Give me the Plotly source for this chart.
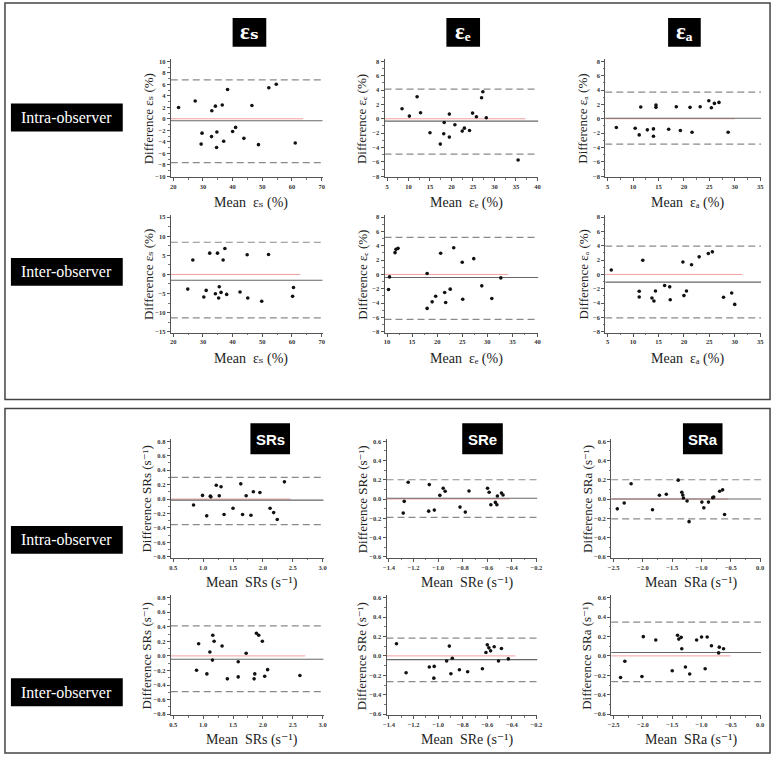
import plotly.graph_objects as go

W, H = 778, 758

# ---------------- data ----------------
# Top panel: strain (%), intra-observer
es_intra_mean = [21.8, 27.4, 29.7, 29.4, 33.0, 32.9, 34.2, 34.7, 34.6, 36.5, 37.0, 38.3, 40.0, 41.0, 43.8, 46.5, 48.7, 52.2, 54.7, 61.1]
es_intra_diff = [1.97, 3.1, -2.5, -4.4, 1.4, -3.1, 2.2, -2.3, -5.0, 2.4, -3.9, 5.1, -2.2, -1.5, -3.4, 2.3, -4.5, 5.4, 6.0, -4.2]
es_intra_stats = [-0.35, 6.76, -7.63, 63.8]  # bias, upper LoA, lower LoA, end of zero line

ee_intra_mean = [8.5, 10.2, 12.0, 12.8, 15.0, 17.4, 18.2, 18.3, 19.5, 19.5, 20.8, 22.5, 23.0, 24.2, 24.9, 25.8, 27.0, 27.3, 28.1, 35.5]
ee_intra_diff = [1.39, 0.37, 3.06, 0.83, -1.94, -3.52, -2.08, -0.51, -2.55, 0.65, -0.83, -1.71, -1.30, -1.62, 0.79, 0.28, 2.92, 3.75, 0.14, -5.74]
ee_intra_stats = [-0.32, 4.12, -4.91, 37.2]

ea_intra_mean = [6.7, 10.4, 11.2, 11.5, 12.8, 14.0, 14.0, 14.5, 14.5, 17.0, 18.5, 19.3, 21.2, 21.6, 23.2, 24.9, 25.4, 26.0, 26.9, 28.7]
ea_intra_diff = [-1.22, -1.31, -2.24, 1.64, -1.54, -1.41, -2.42, 1.91, 1.59, -1.45, 1.68, -1.64, 1.59, -1.87, 1.68, 2.51, 1.54, 2.14, 2.28, -1.87]
ea_intra_stats = [0.08, 3.71, -3.53, 30.0]

# Top panel: strain (%), inter-observer
es_inter_mean = [24.9, 26.6, 30.3, 31.1, 32.3, 34.2, 34.9, 35.3, 35.5, 36.1, 36.8, 37.4, 38.0, 42.5, 44.9, 45.1, 49.8, 52.1, 60.2, 60.5]
es_inter_diff = [-3.85, 3.76, -5.92, -4.19, 5.57, -5.06, 5.57, -6.18, -3.24, -4.71, 3.76, 6.78, -5.23, -4.62, 5.14, -6.18, -7.04, 5.23, -5.75, -3.41]
es_inter_stats = [-1.51, 8.43, -11.37, 62.8]

ee_inter_mean = [10.3, 10.5, 11.6, 11.8, 12.2, 18.0, 18.0, 19.0, 19.7, 20.7, 21.5, 21.7, 22.6, 23.3, 25.0, 25.1, 27.3, 28.9, 30.9, 32.7]
ee_inter_diff = [-2.11, -0.35, 3.04, 3.50, 3.64, 0.12, -4.75, -3.83, -3.04, 2.95, -2.53, -3.92, -2.06, 3.73, 1.69, -3.46, 2.20, -1.60, -3.36, -0.49]
ee_inter_stats = [-0.44, 5.17, -6.28, 34.2]

ea_inter_mean = [5.7, 11.2, 11.2, 11.9, 13.7, 14.1, 14.4, 16.2, 17.2, 17.3, 19.8, 20.0, 20.5, 21.5, 23.0, 24.8, 25.6, 27.8, 29.4, 30.0]
ea_inter_diff = [0.61, -2.35, -3.15, 1.98, -3.29, -3.72, -2.31, -1.55, -1.74, -3.53, 1.74, -2.96, -2.31, 1.36, 2.45, 2.92, 3.15, -3.20, -2.59, -4.19]
ea_inter_stats = [-1.08, 3.95, -6.07, 31.5]

# Bottom panel: strain rate (1/s), intra-observer
srs_intra_mean = [0.84, 0.99, 1.06, 1.12, 1.13, 1.22, 1.27, 1.30, 1.35, 1.50, 1.63, 1.66, 1.72, 1.80, 1.84, 1.95, 2.12, 2.18, 2.24, 2.36]
srs_intra_diff = [-0.082, 0.05, -0.233, 0.04, 0.03, 0.19, 0.046, 0.17, -0.215, -0.128, 0.21, -0.215, 0.046, -0.224, 0.10, 0.09, -0.128, -0.188, -0.284, 0.238]
srs_intra_stats = [-0.015, 0.30, -0.355, 2.46]

sre_intra_mean = [-1.284, -1.276, -1.244, -1.077, -1.072, -1.031, -0.986, -0.959, -0.943, -0.822, -0.779, -0.749, -0.598, -0.585, -0.571, -0.534, -0.522, -0.518, -0.485, -0.472]
sre_intra_diff = [-0.146, -0.024, 0.174, -0.126, 0.15, -0.115, 0.038, 0.112, 0.08, -0.084, -0.136, 0.084, 0.112, 0.07, -0.059, -0.035, -0.059, 0.031, 0.063, 0.042]
sre_intra_stats = [0.008, 0.20, -0.19, -0.42]

sra_intra_mean = [-2.438, -2.320, -2.202, -1.837, -1.719, -1.601, -1.399, -1.337, -1.320, -1.309, -1.247, -1.213, -0.994, -0.961, -0.882, -0.809, -0.792, -0.691, -0.640, -0.607]
sra_intra_diff = [-0.102, -0.042, 0.158, -0.112, 0.039, 0.049, 0.196, 0.07, 0.042, 0.011, -0.021, -0.235, -0.032, -0.091, -0.032, 0.014, 0.021, 0.081, 0.095, -0.161]
sra_intra_stats = [0.0, 0.20, -0.207, -0.55]

# Bottom panel: strain rate (1/s), inter-observer
srs_inter_mean = [0.89, 0.925, 1.063, 1.113, 1.156, 1.162, 1.184, 1.317, 1.405, 1.587, 1.587, 1.720, 1.853, 1.864, 1.892, 1.930, 1.991, 2.030, 2.079, 2.619]
srs_inter_diff = [-0.198, 0.166, -0.247, 0.054, -0.058, 0.283, 0.202, 0.135, -0.315, -0.081, -0.288, 0.036, -0.315, -0.247, 0.310, 0.283, 0.202, -0.279, -0.189, -0.270]
srs_inter_stats = [-0.045, 0.413, -0.49, 2.71]

sre_inter_mean = [-1.339, -1.261, -1.072, -1.032, -1.035, -0.931, -0.909, -0.885, -0.896, -0.827, -0.760, -0.640, -0.611, -0.600, -0.587, -0.573, -0.544, -0.509, -0.485, -0.429]
sre_inter_diff = [0.125, -0.173, -0.114, -0.108, -0.229, -0.052, 0.101, -0.024, -0.184, -0.142, -0.163, -0.132, 0.035, 0.114, 0.083, 0.052, 0.094, -0.052, 0.076, -0.031]
sre_inter_stats = [-0.038, 0.184, -0.264, -0.371]

sra_inter_mean = [-2.382, -2.309, -1.994, -2.017, -1.781, -1.410, -1.388, -1.348, -1.337, -1.500, -1.275, -1.202, -1.084, -1.0, -0.938, -0.904, -0.831, -0.697, -0.708, -0.624]
sra_inter_diff = [-0.222, -0.055, 0.198, -0.212, 0.163, 0.212, 0.173, 0.191, 0.073, -0.153, -0.114, -0.187, 0.163, 0.194, -0.132, 0.194, 0.104, 0.090, 0.031, 0.073]
sra_inter_stats = [0.035, 0.347, -0.264, -0.506]

# tick values
es_xticks = [20, 30, 40, 50, 60, 70]
ee_intra_xticks = [5, 10, 15, 20, 25, 30, 35, 40]
ee_inter_xticks = [10, 15, 20, 25, 30, 35, 40]
ea_xticks = [5, 10, 15, 20, 25, 30, 35]
es_intra_yticks = [-10, -8, -6, -4, -2, 0, 2, 4, 6, 8, 10]
es_inter_yticks = [-15, -10, -5, 0, 5, 10, 15]
e8_yticks = [-8, -6, -4, -2, 0, 2, 4, 6, 8]
srs_xticks = [0.5, 1.0, 1.5, 2.0, 2.5, 3.0]
sre_xticks = [-1.4, -1.2, -1.0, -0.8, -0.6, -0.4, -0.2]
sra_xticks = [-2.5, -2.0, -1.5, -1.0, -0.5, 0.0]
srs_yticks = [-0.8, -0.6, -0.4, -0.2, 0.0, 0.2, 0.4, 0.6, 0.8]
sr6_yticks = [-0.6, -0.4, -0.2, 0.0, 0.2, 0.4, 0.6]

# titles
top_headers = ["εₛ", "εₑ", "εₐ"]
bottom_headers = ["SRs", "SRe", "SRa"]
row_labels = ["Intra-observer", "Inter-observer"]
e_symbols = ["εₛ", "εₑ", "εₐ"]
sr_names = ["SRs", "SRe", "SRa"]

# ---------------- layout geometry (pixels) ----------------
top_cols = [(172, 322), (388, 540), (611, 765)]
top_rows = [(60.5, 176), (217, 332)]
bot_cols = [(172, 323), (390, 539), (617, 765)]
bot_rows = [(442, 558), (599, 716)]

plots = [
    (es_intra_mean, es_intra_diff, es_intra_stats, es_xticks, es_intra_yticks, top_cols[0], top_rows[0], "e", 0, "d"),
    (ee_intra_mean, ee_intra_diff, ee_intra_stats, ee_intra_xticks, e8_yticks, top_cols[1], top_rows[0], "e", 1, "d"),
    (ea_intra_mean, ea_intra_diff, ea_intra_stats, ea_xticks, e8_yticks, top_cols[2], top_rows[0], "e", 2, "d"),
    (es_inter_mean, es_inter_diff, es_inter_stats, es_xticks, es_inter_yticks, top_cols[0], top_rows[1], "e", 0, "d"),
    (ee_inter_mean, ee_inter_diff, ee_inter_stats, ee_inter_xticks, e8_yticks, top_cols[1], top_rows[1], "e", 1, "d"),
    (ea_inter_mean, ea_inter_diff, ea_inter_stats, ea_xticks, e8_yticks, top_cols[2], top_rows[1], "e", 2, "d"),
    (srs_intra_mean, srs_intra_diff, srs_intra_stats, srs_xticks, srs_yticks, bot_cols[0], bot_rows[0], "sr", 0, ".1f"),
    (sre_intra_mean, sre_intra_diff, sre_intra_stats, sre_xticks, sr6_yticks, bot_cols[1], bot_rows[0], "sr", 1, ".1f"),
    (sra_intra_mean, sra_intra_diff, sra_intra_stats, sra_xticks, sr6_yticks, bot_cols[2], bot_rows[0], "sr", 2, ".1f"),
    (srs_inter_mean, srs_inter_diff, srs_inter_stats, srs_xticks, srs_yticks, bot_cols[0], bot_rows[1], "sr", 0, ".1f"),
    (sre_inter_mean, sre_inter_diff, sre_inter_stats, sre_xticks, sr6_yticks, bot_cols[1], bot_rows[1], "sr", 1, ".1f"),
    (sra_inter_mean, sra_inter_diff, sra_inter_stats, sra_xticks, sr6_yticks, bot_cols[2], bot_rows[1], "sr", 2, ".1f"),
]

SERIF = "Liberation Serif, DejaVu Serif, Times New Roman, serif"
SANS = "Liberation Sans, Arial, sans-serif"

fig = go.Figure()
layout = {}
shapes = []
annotations = []

def px_x(x):
    return x / W

def px_y(y):
    return 1 - y / H

PAD_LO = 2.5  # px before first tick
PAD_HI = 1.0  # px after last tick

for i, (mx, dy, st, xt, yt, cpx, rpx, kind, k, fmt) in enumerate(plots):
    n = i + 1
    xs = "x" if n == 1 else f"x{n}"
    ys = "y" if n == 1 else f"y{n}"
    xk = "xaxis" if n == 1 else f"xaxis{n}"
    yk = "yaxis" if n == 1 else f"yaxis{n}"

    x0, x1 = xt[0], xt[-1]
    p0, p1 = cpx
    sx = (p1 - p0) / (x1 - x0)
    xr = [x0 - PAD_LO / sx, x1 + PAD_HI / sx]
    xdom = [px_x(p0 - PAD_LO), px_x(p1 + PAD_HI)]

    y0, y1 = yt[0], yt[-1]
    ptop, pbot = rpx
    sy = (pbot - ptop) / (y1 - y0)
    yr = [y0 - PAD_HI / sy, y1 + PAD_LO / sy]
    ydom = [px_y(pbot + PAD_HI), px_y(ptop - PAD_LO)]

    dx = xt[1] - xt[0]
    dyt = yt[1] - yt[0]
    common = dict(
        showline=True, linecolor="#555", linewidth=1, mirror=False,
        showgrid=False, zeroline=False, ticks="outside", ticklen=3,
        tickcolor="#555", tickwidth=1,
        tickfont=dict(family=SERIF, size=6.5, color="#333", weight="bold"),
        fixedrange=True,
    )
    minor = dict(ticks="outside", ticklen=1.5, tickcolor="#777", showgrid=False)
    layout[xk] = dict(common, domain=xdom, range=xr, anchor=ys, tickvals=xt,
                      tickformat=fmt if fmt != "d" else None,
                      minor=dict(minor, dtick=dx / 2, tick0=x0))
    layout[yk] = dict(common, domain=ydom, range=yr, anchor=xs, tickvals=yt,
                      tickformat=fmt if fmt != "d" else None,
                      minor=dict(minor, dtick=dyt / 2, tick0=y0))

    bias, up, lo, red_end = st
    shapes.append(dict(type="line", xref=xs, yref=ys, x0=xr[0], x1=red_end, y0=0, y1=0,
                       line=dict(color="#f2a0a0", width=1), layer="below"))
    shapes.append(dict(type="line", xref=xs, yref=ys, x0=xr[0], x1=xr[1], y0=bias, y1=bias,
                       line=dict(color="#666", width=1.1), layer="below"))
    for v in (up, lo):
        shapes.append(dict(type="line", xref=xs, yref=ys, x0=xr[0], x1=xr[1], y0=v, y1=v,
                           line=dict(color="#8a8a8a", width=1.2, dash="7px,4px"), layer="below"))

    fig.add_trace(go.Scatter(x=mx, y=dy, mode="markers", xaxis=xs, yaxis=ys,
                             marker=dict(color="#111", size=3.6), showlegend=False,
                             hoverinfo="x+y"))

    cx = (p0 + p1) / 2 + 4
    cy = (ptop + pbot) / 2
    if kind == "e":
        ytitle = f"Difference {e_symbols[k]} (%)"
        xtitle = f"Mean  {e_symbols[k]} (%)"
        ytx = p0 - 25
        xty = pbot + 27
    else:
        ytitle = f"Difference {sr_names[k]} (s⁻¹)"
        xtitle = f"Mean  {sr_names[k]} (s⁻¹)"
        ytx = p0 - 27
        xty = pbot + 26
    annotations.append(dict(text=ytitle, xref="paper", yref="paper", x=px_x(ytx), y=px_y(cy),
                            xanchor="center", yanchor="middle", textangle=-90, showarrow=False,
                            font=dict(family=SERIF, size=13, color="#222")))
    annotations.append(dict(text=xtitle, xref="paper", yref="paper", x=px_x(cx), y=px_y(xty),
                            xanchor="center", yanchor="middle", showarrow=False,
                            font=dict(family=SERIF, size=14, color="#222")))

# panel frames
for (t, b) in [(2, 400), (409, 755)]:
    shapes.append(dict(type="rect", xref="paper", yref="paper", x0=px_x(2), x1=px_x(775),
                       y0=px_y(b), y1=px_y(t), line=dict(color="#444", width=1.5)))

# header boxes
top_hdr_x = [(232, 266), (448, 482), (672, 705)]
for (a, b), txt in zip(top_hdr_x, top_headers):
    shapes.append(dict(type="rect", xref="paper", yref="paper", x0=px_x(a), x1=px_x(b),
                       y0=px_y(46), y1=px_y(17), fillcolor="black", line=dict(width=0)))
    annotations.append(dict(text=f"<b>{txt}</b>", xref="paper", yref="paper", x=px_x((a + b) / 2),
                            y=px_y(31), xanchor="center", yanchor="middle", showarrow=False,
                            font=dict(family=SERIF, size=23, color="white")))
bot_hdr_x = [(250, 290), (464, 505), (687, 727)]
for (a, b), txt in zip(bot_hdr_x, bottom_headers):
    shapes.append(dict(type="rect", xref="paper", yref="paper", x0=px_x(a), x1=px_x(b),
                       y0=px_y(455), y1=px_y(424), fillcolor="black", line=dict(width=0)))
    annotations.append(dict(text=f"<b>{txt}</b>", xref="paper", yref="paper", x=px_x((a + b) / 2),
                            y=px_y(440), xanchor="center", yanchor="middle", showarrow=False,
                            font=dict(family=SANS, size=15, color="white")))

# row label boxes
for (t, b), txt in zip([(103, 131), (258, 286), (527, 555), (680, 708)], row_labels * 2):
    shapes.append(dict(type="rect", xref="paper", yref="paper", x0=px_x(8), x1=px_x(121),
                       y0=px_y(b), y1=px_y(t), fillcolor="black", line=dict(width=0)))
    annotations.append(dict(text=txt, xref="paper", yref="paper", x=px_x(64.5), y=px_y((t + b) / 2),
                            xanchor="center", yanchor="middle", showarrow=False,
                            font=dict(family=SERIF, size=16, color="white")))

fig.update_layout(
    width=W, height=H, margin=dict(l=0, r=0, t=0, b=0),
    paper_bgcolor="white", plot_bgcolor="white",
    shapes=shapes, annotations=annotations, showlegend=False,
    **layout,
)

fig.write_html(
    "out.html",
    config={"displayModeBar": False},
    post_script="document.body.style.margin='0';document.body.style.overflow='hidden';",
)
